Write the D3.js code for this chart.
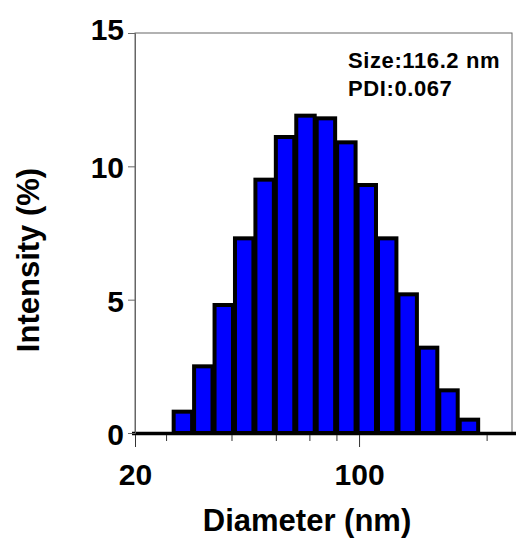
<!DOCTYPE html>
<meta charset="utf-8">
<style>
body { margin: 0; background: #fff; }
text {
  font-family: "Liberation Sans", Arial, sans-serif;
  font-weight: bold;
  fill: #000;
}
.frame { fill: none; stroke: #666; stroke-width: 1px; }
.bar { fill: #0000ff; stroke: #000; stroke-width: 4px; }
</style>
<svg width="516" height="539"></svg>
<script src="https://cdn.jsdelivr.net/npm/d3@7"></script>
<script>

// Malvern size classes (nm) and intensity (%)
var sizes = [28.21, 32.67, 37.84, 43.82, 50.75, 58.77, 68.06, 78.82, 91.28, 105.7, 122.4, 141.8, 164.2, 190.1, 220.2];
var intensity = [0.8, 2.5, 4.8, 7.3, 9.5, 11.1, 11.9, 11.8, 10.9, 9.3, 7.3, 5.2, 3.2, 1.6, 0.5];
var xMajor = [20, 100];
var xMinor = [25, 40, 55, 70, 85, 250];
var yTicks = [0, 5, 10, 15];
var notes = ["Size:116.2 nm", "PDI:0.067"];

var svg = d3.select("svg"),
    pLeft = 135, pRight = 512, pTop = 33, pBottom = 433;

var x = d3.scaleLog().domain([20, 300]).range([pLeft, pRight]);
var y = d3.scaleLinear().domain([0, 15]).range([pBottom, pTop]);

// bin ratio between neighbouring size classes
var ratio = Math.sqrt(sizes[1] / sizes[0]);

// frame
svg.append("rect").attr("class", "frame")
    .attr("x", pLeft).attr("y", pTop)
    .attr("width", pRight - pLeft).attr("height", pBottom - pTop);

// bars
svg.selectAll(".bar")
  .data(sizes)
  .enter().append("rect")
    .attr("class", "bar")
    .attr("x", function(d) { return x(d / ratio) + 1; })
    .attr("width", function(d) { return x(d * ratio) - x(d / ratio) - 2; })
    .attr("y", function(d, i) { return y(intensity[i]); })
    .attr("height", function(d, i) { return pBottom - y(intensity[i]); });

// thick baseline
svg.append("line")
    .attr("x1", pLeft - 3).attr("x2", 516)
    .attr("y1", pBottom + 0.5).attr("y2", pBottom + 0.5)
    .attr("stroke", "#000").attr("stroke-width", 3.5);

// y axis
var yAxis = d3.axisLeft(y).tickValues(yTicks).tickSize(7).tickPadding(4);
var gy = svg.append("g").attr("transform", "translate(" + pLeft + ",0)").call(yAxis);
gy.select(".domain").attr("stroke", "#666");
gy.selectAll(".tick line").attr("stroke", "#666");
gy.selectAll(".tick text")
    .style("font-size", "30px")
    .attr("fill", "#000")
    .attr("dy", function(d) { return d === 15 ? "0.2em" : "0.38em"; });

// x axis: major + minor ticks
var xAxis = d3.axisBottom(x).tickValues(xMajor).tickSize(12).tickPadding(17)
    .tickFormat(d3.format("d"));
var gx = svg.append("g").attr("transform", "translate(0," + (pBottom + 2) + ")").call(xAxis);
gx.select(".domain").remove();
gx.selectAll(".tick line").attr("stroke", "#333");
gx.selectAll(".tick text")
    .style("font-size", "30px")
    .attr("fill", "#000");

var xAxisMinor = d3.axisBottom(x).tickValues(xMinor).tickSize(6).tickFormat("");
var gxm = svg.append("g").attr("transform", "translate(0," + (pBottom + 2) + ")").call(xAxisMinor);
gxm.select(".domain").remove();
gxm.selectAll(".tick line").attr("stroke", "#333");

// axis titles
svg.append("text")
    .attr("x", 307).attr("y", 531)
    .attr("text-anchor", "middle")
    .style("font-size", "31px")
    .text("Diameter (nm)");

svg.append("text")
    .attr("transform", "translate(39,260) rotate(-90)")
    .attr("text-anchor", "middle")
    .style("font-size", "31px")
    .text("Intensity (%)");

// annotation
svg.selectAll(".note")
  .data(notes)
  .enter().append("text")
    .attr("class", "note")
    .attr("x", 348)
    .attr("y", function(d, i) { return 68 + i * 28; })
    .style("font-size", "22px")
    .style("letter-spacing", "0.6px")
    .text(function(d) { return d; });

</script>
